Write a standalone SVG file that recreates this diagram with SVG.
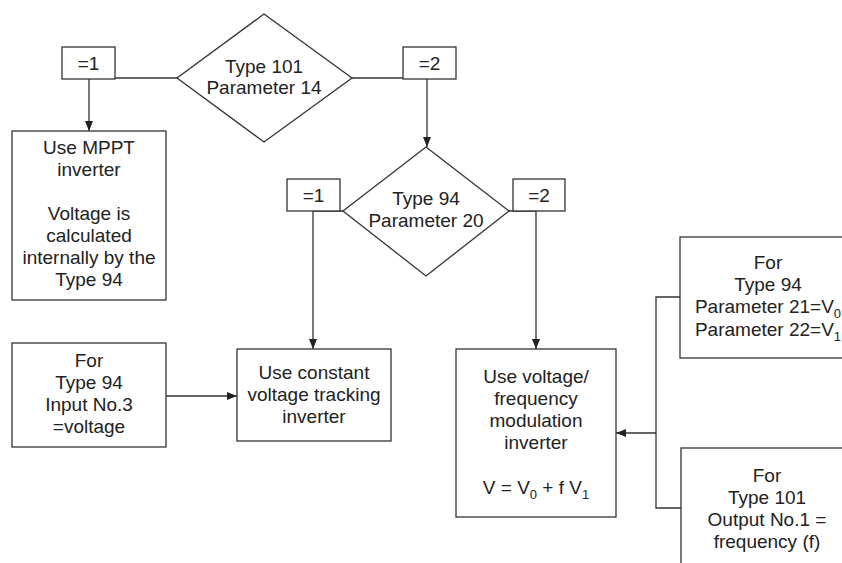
<svg xmlns="http://www.w3.org/2000/svg" width="842" height="563" viewBox="0 0 842 563">
  <defs>
    <marker id="arrow" viewBox="0 0 10 8" refX="10" refY="4" markerWidth="10" markerHeight="8" markerUnits="userSpaceOnUse" orient="auto">
      <path d="M0,0 L10,4 L0,8 Z" fill="#222"/>
    </marker>
  </defs>
  <style>
    .shape { fill: #fff; stroke: #333; stroke-width: 1.3; }
    .line { fill: none; stroke: #333; stroke-width: 1.3; }
    .arr { marker-end: url(#arrow); }
    text { font-family: "Liberation Sans", Arial, sans-serif; font-size: 19px; fill: #222; text-anchor: middle; }
    .sub { font-size: 13px; }
  </style>
  <rect width="842" height="563" fill="#fff"/>

  <!-- connectors -->
  <g id="connectors">
    <path class="line" d="M115,78 H177"/>
    <path class="line" d="M352,78 H403"/>
    <path class="line arr" d="M89,79 V131"/>
    <path class="line arr" d="M427,79 V147"/>
    <path class="line arr" d="M343,211 H313 V349"/>
    <path class="line arr" d="M509,211 H536 V349"/>
    <path class="line arr" d="M166,396 H237"/>
    <path class="line" d="M680,297 H656 V508 H681"/>
    <path class="line arr" d="M656,433 H616"/>
  </g>

  <!-- decision: Type 101 Parameter 14 -->
  <g id="decision1">
    <polygon class="shape" points="264,14 352,78 264,142 177,78"/>
    <text x="264" y="73">Type 101</text>
    <text x="264" y="94">Parameter 14</text>
  </g>
  <g id="d1-eq1">
    <rect class="shape" x="62" y="47" width="53" height="32"/>
    <text x="88.5" y="70">=1</text>
  </g>
  <g id="d1-eq2">
    <rect class="shape" x="403" y="47" width="53" height="32"/>
    <text x="429.5" y="70">=2</text>
  </g>

  <!-- MPPT inverter -->
  <g id="mppt">
    <rect class="shape" x="12" y="131" width="154" height="169"/>
    <text x="89" y="154">Use MPPT</text>
    <text x="89" y="176">inverter</text>
    <text x="89" y="220">Voltage is</text>
    <text x="89" y="242">calculated</text>
    <text x="89" y="264">internally by the</text>
    <text x="89" y="286">Type 94</text>
  </g>

  <!-- decision: Type 94 Parameter 20 -->
  <g id="decision2">
    <polygon class="shape" points="426,147 509,211 426,276 343,211"/>
    <text x="426" y="205">Type 94</text>
    <text x="426" y="227">Parameter 20</text>
  </g>
  <g id="d2-eq1">
    <rect class="shape" x="287" y="179" width="53" height="32"/>
    <text x="313.5" y="202">=1</text>
  </g>
  <g id="d2-eq2">
    <rect class="shape" x="513" y="179" width="52" height="32"/>
    <text x="539" y="202">=2</text>
  </g>

  <!-- input voltage source -->
  <g id="input-voltage">
    <rect class="shape" x="12" y="343" width="154" height="104"/>
    <text x="89" y="367">For</text>
    <text x="89" y="389">Type 94</text>
    <text x="89" y="411">Input No.3</text>
    <text x="89" y="433">=voltage</text>
  </g>

  <!-- constant voltage tracking inverter -->
  <g id="constant-voltage">
    <rect class="shape" x="237" y="349" width="154" height="92"/>
    <text x="314" y="379">Use constant</text>
    <text x="314" y="401">voltage tracking</text>
    <text x="314" y="423">inverter</text>
  </g>

  <!-- voltage/frequency modulation inverter -->
  <g id="vf-modulation">
    <rect class="shape" x="456" y="349" width="160" height="168"/>
    <text x="536" y="383">Use voltage/</text>
    <text x="536" y="405">frequency</text>
    <text x="536" y="427">modulation</text>
    <text x="536" y="449">inverter</text>
    <text x="536" y="494">V = V<tspan class="sub" dy="5">0</tspan><tspan dy="-5"> + f V</tspan><tspan class="sub" dy="5">1</tspan></text>
  </g>

  <!-- parameters V0, V1 -->
  <g id="params">
    <rect class="shape" x="680" y="237" width="180" height="121"/>
    <text x="768" y="269">For</text>
    <text x="768" y="291">Type 94</text>
    <text x="768" y="313">Parameter 21=V<tspan class="sub" dy="5">0</tspan></text>
    <text x="768" y="336">Parameter 22=V<tspan class="sub" dy="5">1</tspan></text>
  </g>

  <!-- frequency output -->
  <g id="frequency">
    <rect class="shape" x="681" y="448" width="180" height="130"/>
    <text x="767" y="482">For</text>
    <text x="767" y="504">Type 101</text>
    <text x="767" y="526">Output No.1 =</text>
    <text x="767" y="548">frequency (f)</text>
  </g>
</svg>
